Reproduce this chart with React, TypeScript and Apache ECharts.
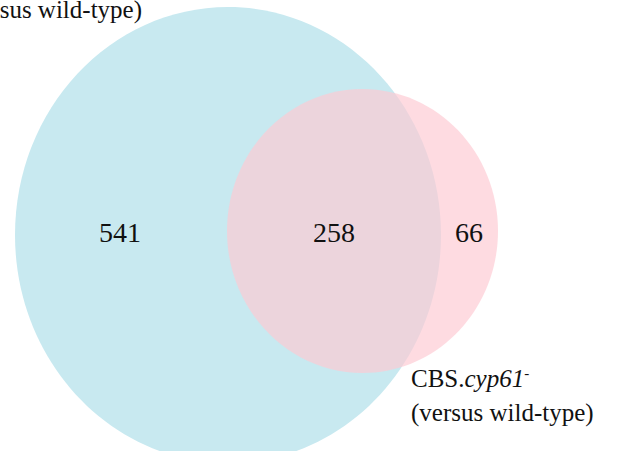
import React, { useEffect, useRef } from 'react';
import * as echarts from 'echarts';

// ---- data ----
const regionNames = ['Only first set', 'Both sets', 'Only CBS.cyp61-'];
const regionCounts = [541, 258, 66];
const setLabelTop = '(versus wild-type)';
const setLabelBottomLine1 = ['CBS.', 'cyp61', '-'];
const setLabelBottomLine2 = '(versus wild-type)';

// ---- layout (coordinate space = 621 x 451 picture) ----
const W = 621;
const H = 451;
const ellipseLayout = [
  { cx: 228, cy: 235, rx: 213, ry: 228, fill: '#c8e9f0' },
  { cx: 362.5, cy: 231, rx: 135.5, ry: 142, fill: 'rgba(254,202,211,0.68)' },
];
const countLayout = [
  [120, 232],
  [334, 232],
  [469, 232],
];

const FONT = '"Liberation Serif", "Times New Roman", serif';

export default function App() {
  const ref = useRef<HTMLDivElement>(null);
  useEffect(() => {
    document.body.style.margin = '0';
    if (!ref.current) return;
    const chart = echarts.init(ref.current, undefined, { renderer: 'svg' });
    chart.setOption({
      animation: false,
      backgroundColor: '#ffffff',
      grid: { left: 0, right: 0, top: 0, bottom: 0 },
      xAxis: { type: 'value', min: 0, max: W, show: false },
      yAxis: { type: 'value', min: 0, max: H, inverse: true, show: false },
      series: [
        {
          type: 'custom',
          name: 'sets',
          silent: true,
          data: ellipseLayout.map((e, i) => [e.cx, e.cy, e.rx, e.ry, i]),
          renderItem: (params: any, api: any) => {
            const c = api.coord([api.value(0), api.value(1)]);
            const s = api.size([api.value(2), api.value(3)]);
            return {
              type: 'ellipse',
              shape: { cx: c[0], cy: c[1], rx: s[0], ry: s[1] },
              style: { fill: ellipseLayout[params.dataIndex].fill },
            };
          },
        },
        {
          type: 'custom',
          name: 'counts',
          silent: true,
          data: regionCounts.map((v, i) => ({
            name: regionNames[i],
            value: [countLayout[i][0], countLayout[i][1], v],
          })),
          renderItem: (params: any, api: any) => {
            const c = api.coord([api.value(0), api.value(1)]);
            return {
              type: 'text',
              x: c[0],
              y: c[1],
              style: {
                text: String(api.value(2)),
                fontFamily: FONT,
                fontSize: 28,
                fill: '#111111',
                align: 'center',
                verticalAlign: 'middle',
              },
            };
          },
        },
      ],
      graphic: [
        {
          type: 'text',
          x: 142,
          y: 9,
          silent: true,
          style: {
            text: setLabelTop,
            fontFamily: FONT,
            fontSize: 25,
            fill: '#111111',
            align: 'right',
            verticalAlign: 'middle',
          },
        },
        {
          type: 'text',
          x: 411,
          y: 378,
          silent: true,
          style: {
            text: `{a|${setLabelBottomLine1[0]}}{b|${setLabelBottomLine1[1]}}{c|${setLabelBottomLine1[2]}}`,
            fontFamily: FONT,
            fontSize: 25,
            fill: '#111111',
            align: 'left',
            verticalAlign: 'middle',
            rich: {
              a: { fontFamily: FONT, fontSize: 25, fill: '#111111' },
              b: { fontFamily: FONT, fontSize: 25, fontStyle: 'italic', fill: '#111111' },
              c: { fontFamily: FONT, fontSize: 15, fill: '#111111', verticalAlign: 'top' },
            },
          },
        },
        {
          type: 'text',
          x: 411,
          y: 412,
          silent: true,
          style: {
            text: setLabelBottomLine2,
            fontFamily: FONT,
            fontSize: 25,
            fill: '#111111',
            align: 'left',
            verticalAlign: 'middle',
          },
        },
      ],
    });
    return () => chart.dispose();
  }, []);
  return <div ref={ref} style={{ width: W, height: H }} />;
}
